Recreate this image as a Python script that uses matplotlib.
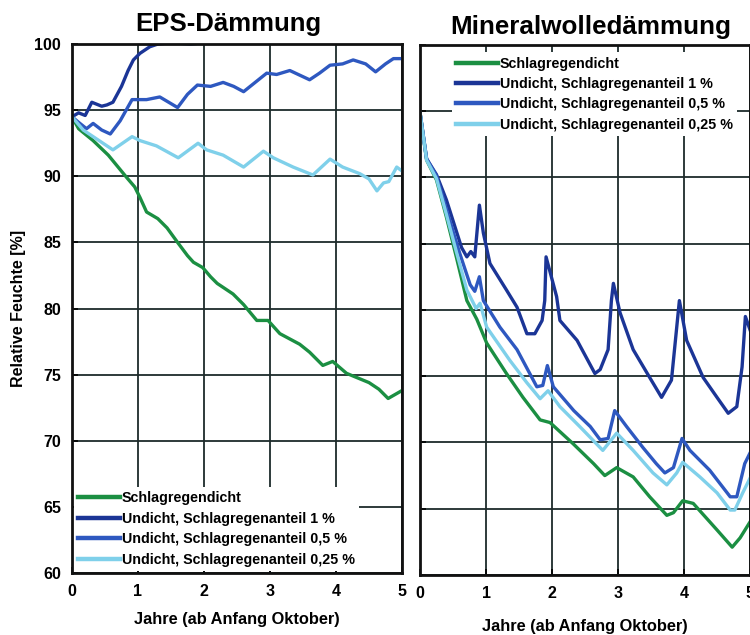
import matplotlib
matplotlib.use('Agg')
import matplotlib.pyplot as plt

plt.rcParams['font.family'] = ['Liberation Sans', 'DejaVu Sans']
plt.rcParams['font.weight'] = 'bold'

labels = [
    'Schlagregendicht',
    'Undicht, Schlagregenanteil 1 %',
    'Undicht, Schlagregenanteil 0,5 %',
    'Undicht, Schlagregenanteil 0,25 %',
]
colors = ['#1b8f42', '#1b3596', '#2e58c0', '#7fd0ea']

# EPS insulation
eps_dicht_x = [0, 0.1, 0.32, 0.55, 0.83, 0.95, 1.03, 1.13, 1.3, 1.44, 1.6, 1.75, 1.84, 1.98, 2.1,
               2.2, 2.44, 2.6, 2.8, 2.97, 3.15, 3.45, 3.6, 3.8, 3.95, 4.16, 4.5, 4.65, 4.79, 5.0]
eps_dicht_y = [94.5, 93.6, 92.7, 91.6, 89.9, 89.2, 88.4, 87.3, 86.8, 86.1, 85.0, 84.0, 83.5, 83.1, 82.4,
               81.9, 81.1, 80.3, 79.1, 79.1, 78.1, 77.3, 76.7, 75.7, 76.0, 75.1, 74.4, 73.9, 73.2, 73.8]

eps_1_x = [0, 0.1, 0.2, 0.3, 0.45, 0.53, 0.62, 0.75, 0.85, 0.93, 1.03, 1.18, 1.3, 1.5, 1.8, 2.0,
           2.3, 2.6, 3.0, 3.5, 4.0, 4.5, 5.0]
eps_1_y = [94.5, 94.8, 94.6, 95.6, 95.3, 95.4, 95.6, 96.8, 98.0, 98.8, 99.3, 99.8, 100.0, 100.1, 100.0,
           100.1, 100.2, 100.8, 101.2, 101.6, 102.0, 102.3, 102.6]

eps_05_x = [0, 0.12, 0.22, 0.32, 0.45, 0.58, 0.73, 0.91, 1.13, 1.33, 1.6, 1.75, 1.9, 2.1, 2.29,
            2.45, 2.6, 2.8, 2.95, 3.1, 3.3, 3.6, 3.75, 3.91, 4.1, 4.26, 4.45, 4.6, 4.75, 4.87, 5.0]
eps_05_y = [94.5, 94.0, 93.6, 94.0, 93.5, 93.2, 94.2, 95.8, 95.8, 96.0, 95.2, 96.2, 96.9, 96.8, 97.1,
            96.8, 96.4, 97.2, 97.8, 97.7, 98.0, 97.3, 97.8, 98.4, 98.5, 98.8, 98.5, 97.9, 98.5, 98.9, 98.9]

eps_025_x = [0, 0.17, 0.32, 0.62, 0.91, 1.03, 1.28, 1.61, 1.91, 2.04, 2.29, 2.6, 2.9, 3.05, 3.35,
             3.65, 3.91, 4.1, 4.36, 4.5, 4.62, 4.72, 4.8, 4.92, 5.0]
eps_025_y = [94.5, 93.5, 93.0, 92.0, 93.0, 92.7, 92.3, 91.4, 92.5, 92.0, 91.6, 90.7, 91.9, 91.4, 90.7,
             90.1, 91.3, 90.7, 90.2, 89.8, 88.9, 89.5, 89.6, 90.7, 90.4]

# Mineral wool insulation
mw_dicht_x = [0, 0.1, 0.25, 0.4, 0.55, 0.71, 0.86, 1.01, 1.31, 1.56, 1.82, 1.97, 2.32, 2.63, 2.8,
              2.98, 3.23, 3.48, 3.74, 3.84, 3.98, 4.14, 4.5, 4.73, 4.85, 5.0]
mw_dicht_y = [94.9, 91.3, 89.8, 87.0, 84.0, 80.7, 79.3, 77.5, 75.2, 73.4, 71.7, 71.5, 69.9, 68.4, 67.5,
              68.1, 67.4, 65.9, 64.5, 64.7, 65.6, 65.4, 63.4, 62.1, 62.8, 64.0]

mw_1_x = [0, 0.1, 0.25, 0.4, 0.63, 0.71, 0.77, 0.83, 0.9, 0.96, 1.06, 1.31, 1.47, 1.62, 1.74, 1.85,
          1.89, 1.91, 2.07, 2.12, 2.38, 2.65, 2.73, 2.85, 2.9, 2.93, 3.03, 3.23, 3.48, 3.66, 3.81,
          3.88, 3.93, 4.04, 4.29, 4.5, 4.67, 4.8, 4.88, 4.93, 5.0]
mw_1_y = [94.9, 91.4, 90.2, 88.3, 84.7, 84.0, 84.4, 84.0, 87.9, 85.8, 83.5, 81.5, 80.2, 78.2, 78.2, 79.2,
          80.7, 84.0, 81.0, 79.2, 77.7, 75.2, 75.5, 77.0, 80.7, 82.0, 79.8, 77.0, 74.9, 73.4, 74.7,
          78.2, 80.7, 77.7, 74.9, 73.4, 72.2, 72.7, 75.7, 79.5, 78.5]

mw_05_x = [0, 0.1, 0.25, 0.4, 0.6, 0.76, 0.83, 0.9, 0.96, 1.21, 1.47, 1.77, 1.86, 1.93, 2.02, 2.33,
           2.58, 2.73, 2.85, 2.95, 3.13, 3.38, 3.58, 3.71, 3.84, 3.97, 4.09, 4.39, 4.7, 4.8, 4.92, 5.0]
mw_05_y = [94.9, 91.4, 90.1, 87.6, 84.3, 81.9, 81.4, 82.5, 80.7, 78.7, 77.0, 74.2, 74.3, 75.8, 74.2, 72.4,
           71.2, 70.2, 70.3, 72.4, 71.2, 69.6, 68.4, 67.7, 68.1, 70.3, 69.4, 67.9, 65.9, 65.9, 68.4, 69.2]

mw_025_x = [0, 0.1, 0.25, 0.4, 0.55, 0.71, 0.85, 0.91, 1.01, 1.36, 1.62, 1.82, 1.94, 2.12, 2.42, 2.77,
            2.98, 3.23, 3.53, 3.74, 3.89, 3.98, 4.24, 4.5, 4.7, 4.77, 4.89, 5.0]
mw_025_y = [94.9, 91.3, 89.9, 87.2, 84.4, 81.5, 80.1, 80.5, 78.7, 76.2, 74.5, 73.3, 73.9, 72.7, 71.2, 69.4,
            70.7, 69.4, 67.7, 66.8, 67.7, 68.5, 67.4, 66.2, 64.9, 64.9, 66.2, 67.3]

eps_series = [(eps_dicht_x, eps_dicht_y), (eps_1_x, eps_1_y), (eps_05_x, eps_05_y), (eps_025_x, eps_025_y)]
mw_series = [(mw_dicht_x, mw_dicht_y), (mw_1_x, mw_1_y), (mw_05_x, mw_05_y), (mw_025_x, mw_025_y)]

fig = plt.figure(figsize=(7.5, 6.35), dpi=100)
ax_eps = fig.add_axes([0.096, 0.0976, 0.44, 0.833])
ax_mw = fig.add_axes([0.56, 0.0945, 0.44, 0.835])

grid_col = '#1d2b2b'
for ax, series in ((ax_eps, eps_series), (ax_mw, mw_series)):
    ax.set_xlim(0, 5)
    ax.set_ylim(60, 100)
    ax.set_xticks(range(6))
    ax.set_yticks(range(60, 101, 5))
    ax.grid(True, color=grid_col, linewidth=1.3, zorder=1)
    ax.set_axisbelow(True)
    for spine in ax.spines.values():
        spine.set_linewidth(2.0)
        spine.set_color('#111111')
        spine.set_zorder(5)
    ax.tick_params(direction='in', length=4, width=1.2, labelsize=11.5, pad=8)
    for (xs, ys), col, lab in zip(series, colors, labels):
        ax.plot(xs, ys, color=col, linewidth=2.4, label=lab, zorder=3, solid_joinstyle='round')
    ax.set_xlabel('Jahre (ab Anfang Oktober)', fontsize=11.8, fontweight='bold')

ax_eps.xaxis.labelpad = 9
ax_mw.xaxis.labelpad = 13
ax_mw.tick_params(labelleft=False)
ax_eps.set_ylabel('Relative Feuchte [%]', fontsize=11.5, fontweight='bold', labelpad=6)

fig.text(0.305, 0.962, 'EPS-Dämmung', ha='center', va='center', fontsize=18.5, fontweight='bold')
fig.text(0.787, 0.958, 'Mineralwolledämmung', ha='center', va='center', fontsize=18.7, fontweight='bold')

leg_kw = dict(fontsize=10.3, frameon=True, fancybox=False, handlelength=2.9, handletextpad=0.15,
              labelspacing=0.45, borderpad=0.3, borderaxespad=0.15)
leg1 = ax_eps.legend(loc='lower left', **leg_kw)
leg2 = ax_mw.legend(loc='upper left', bbox_to_anchor=(0.09, 0.99), **leg_kw)
for leg in (leg1, leg2):
    leg.get_frame().set_edgecolor('none')
    leg.get_frame().set_facecolor('white')
    leg.get_frame().set_alpha(1.0)
    leg.set_zorder(4)
    for line in leg.get_lines():
        line.set_linewidth(3.2)

fig.savefig('out.png', dpi=100)
